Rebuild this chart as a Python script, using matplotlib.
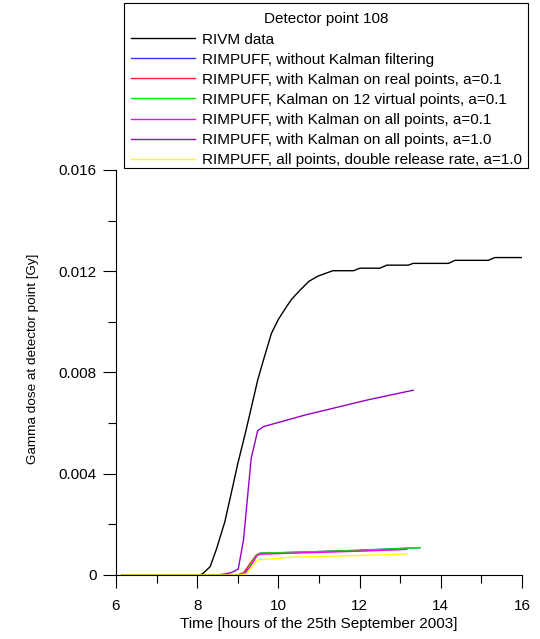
import matplotlib
matplotlib.use('Agg')
import matplotlib.pyplot as plt
from matplotlib.patches import Rectangle

plt.rcParams['font.family'] = ['Liberation Sans', 'DejaVu Sans']

# RIVM measurements (hours, Gy)
rivm_t = [6.17, 8.07, 8.15, 8.32, 8.48, 8.68, 8.89, 9.0, 9.2, 9.36, 9.49, 9.67, 9.83,
          10.0, 10.2, 10.33, 10.52, 10.75, 10.98, 11.34, 11.85, 12.01, 12.5, 12.67,
          13.2, 13.32, 14.19, 14.35, 15.17, 15.33, 16.0]
rivm_v = [0, 0, 0.00007, 0.00033, 0.00105, 0.0021, 0.0036, 0.0044, 0.0057, 0.0068,
          0.0077, 0.0087, 0.00955, 0.0101, 0.0106, 0.0109, 0.01123, 0.0116, 0.01181,
          0.01202, 0.01202, 0.01212, 0.01212, 0.01224, 0.01224, 0.01231, 0.01231,
          0.01243, 0.01243, 0.01254, 0.01254]

# RIMPUFF runs
no_kal_t = [6.15, 9.0, 9.17, 9.3, 9.47, 9.55, 10.5, 12.0, 13.49]
no_kal_v = [0, 0, 0.00007, 0.0004, 0.0008, 0.00086, 0.0009, 0.00098, 0.00108]

real_t = [6.15, 9.0, 9.15, 9.3, 9.45, 9.55, 10.5, 12.0, 13.16]
real_v = [0, 0, 0.0001, 0.00045, 0.00078, 0.00085, 0.00089, 0.00096, 0.00102]

virt_t = [6.15, 9.0, 9.18, 9.3, 9.47, 9.55, 10.5, 12.0, 13.49]
virt_v = [0, 0, 0.00006, 0.00038, 0.0008, 0.00086, 0.0009, 0.00097, 0.00108]

all01_t = [6.15, 9.0, 9.18, 9.32, 9.47, 9.55, 10.5, 12.0, 13.16]
all01_v = [0, 0, 0.00006, 0.00035, 0.00076, 0.00082, 0.00087, 0.00094, 0.00101]

all10_t = [6.15, 8.5, 8.68, 8.85, 9.01, 9.14, 9.33, 9.49, 9.63, 10.66, 12.21, 13.32]
all10_v = [0, 0, 0.00004, 0.0001, 0.00023, 0.00138, 0.00461, 0.0057, 0.00586,
           0.00632, 0.00692, 0.0073]

double_t = [6.15, 9.05, 9.22, 9.35, 9.5, 10.29, 12.0, 13.16]
double_v = [0, 0, 0.00005, 0.00035, 0.00059, 0.0007, 0.00077, 0.00083]

labels = ['RIVM data',
          'RIMPUFF, without Kalman filtering',
          'RIMPUFF, with Kalman on real points, a=0.1',
          'RIMPUFF, Kalman on 12 virtual points, a=0.1',
          'RIMPUFF, with Kalman on all points, a=0.1',
          'RIMPUFF, with Kalman on all points, a=1.0',
          'RIMPUFF, all points, double release rate, a=1.0']
colors = ['black', '#3333ff', '#ff2020', '#00ee00', '#ff00ff', '#9900cc', '#ffff00']

W, H = 540, 639
fig = plt.figure(figsize=(5.4, 6.39), dpi=100)
ax = fig.add_axes([0.2148, 0.1002, 0.7519, 0.6338])

series = [(rivm_t, rivm_v), (no_kal_t, no_kal_v), (real_t, real_v), (virt_t, virt_v),
          (all01_t, all01_v), (all10_t, all10_v), (double_t, double_v)]
for (t, v), lab, c in zip(series, labels, colors):
    ax.plot(t, v, color=c, lw=1.0, label=lab)

ax.set_xlim(6, 16)
ax.set_ylim(0, 0.016)
ax.set_xticks([6, 8, 10, 12, 14, 16])
ax.set_xticks([7, 9, 11, 13, 15], minor=True)
ax.set_yticks([0, 0.004, 0.008, 0.012, 0.016])
ax.set_yticklabels(['0', '0.004', '0.008', '0.012', '0.016'])
ax.set_yticks([0.002, 0.006, 0.010, 0.014], minor=True)
ax.tick_params(which='major', direction='out', length=9.5, width=0.8, labelsize=11)
ax.tick_params(axis='x', which='major', pad=7.5)
ax.tick_params(axis='y', which='major', pad=4.5)
ax.tick_params(which='minor', direction='out', length=5.5, width=0.8)
for s in ['top', 'right']:
    ax.spines[s].set_visible(False)
for s in ['left', 'bottom']:
    ax.spines[s].set_linewidth(0.8)

ax.set_xlabel('Time [hours of the 25th September 2003]', fontsize=11, labelpad=3)
ax.set_ylabel('Gamma dose at detector point [Gy]', fontsize=9.7)
ax.yaxis.set_label_coords(-0.19, 0.533)

# legend without its own frame; box drawn separately
leg = fig.legend(loc='upper left', bbox_to_anchor=(125.8 / W, 1 - 7.5 / H),
                 title='Detector point 108', fontsize=11, title_fontsize=11,
                 frameon=False, handlelength=4.2, handletextpad=0.48,
                 labelspacing=0.40, borderpad=0.32, borderaxespad=0)
fig.add_artist(Rectangle((124.3 / W, 1 - 168.3 / H), (527.7 - 124.3) / W,
                         (168.3 - 2.7) / H, transform=fig.transFigure,
                         fill=False, edgecolor='black', lw=0.8))

fig.savefig('out.png', dpi=100)
